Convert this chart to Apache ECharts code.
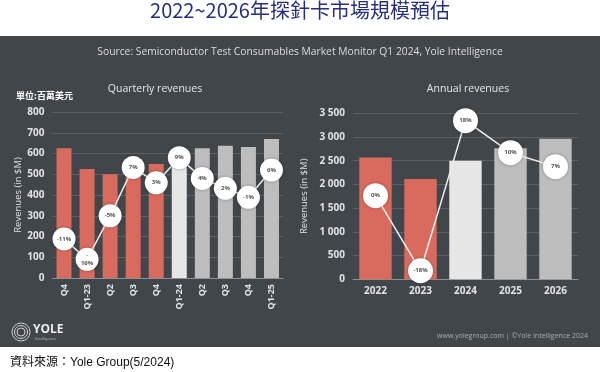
<!DOCTYPE html>
<html><head><meta charset="utf-8">
<script src="https://cdn.jsdelivr.net/npm/echarts@6/dist/echarts.min.js"></script>
<style>html,body{margin:0;padding:0;background:#fff}#c{width:600px;height:372px}</style>
</head><body><div id="c"></div>
<script>
const qCategories = ['Q4','Q1-23','Q2','Q3','Q4','Q1-24','Q2','Q3','Q4','Q1-25'];
const qRevenue = [625, 525, 500, 535, 550, 598, 625, 637, 631, 670];
const qGrowthPos = [188, 90, 300, 533, 459, 580, 480, 432, 389, 520];
const qGrowthLabels = ['-11%', '-\n16%', '-5%', '7%', '3%', '9%', '4%', '2%', '-1%', '6%'];
const qYTicks = [0, 100, 200, 300, 400, 500, 600, 700, 800];

const aCategories = ['2022','2023','2024','2025','2026'];
const aRevenue = [2570, 2115, 2500, 2762, 2965];
const aGrowthPos = [1763, 181, 3345, 2670, 2375];
const aGrowthLabels = ['0%', '-18%', '18%', '10%', '7%'];
const aYTicks = [0, 500, 1000, 1500, 2000, 2500, 3000, 3500];

const RED = '#d86b5e', LIGHT = '#e6e6e6', GREY = '#bdbdbd';
const qColors = qCategories.map((c, i) => i < 5 ? RED : (i === 5 ? LIGHT : GREY));
const aColors = aCategories.map((c, i) => i < 2 ? RED : (i === 2 ? LIGHT : GREY));

const FONT = '"Open Sans", Lato, sans-serif';
const chart = echarts.init(document.getElementById('c'), null, {renderer: 'canvas'});

function fmtThousands(v){ return v >= 1000 ? String(v).replace(/\B(?=(\d{3})+(?!\d))/g, ' ') : String(v); }

const axisLabelStyle = {color: '#e2e2e2', fontFamily: FONT, fontWeight: 'bold'};

chart.setOption({
  animation: false,
  graphic: [
    {type: 'rect', shape: {x: 0, y: 36, width: 600, height: 311}, style: {fill: '#41464b'}, z: -10},
    {type: 'text', left: 'center', top: 0, style: {text: '2022~2026年探針卡市場規模預估', fill: '#262f7e', font: 'normal 20px "Noto Sans CJK TC", sans-serif'}},
    {type: 'text', x: 300, y: 52, style: {text: 'Source: Semiconductor Test Consumables Market Monitor Q1 2024, Yole Intelligence', fill: '#dcdcdc', font: '10.3px ' + FONT, align: 'center', verticalAlign: 'middle'}},
    {type: 'text', x: 155, y: 89, style: {text: 'Quarterly revenues', fill: '#e6e6e6', font: '10.5px ' + FONT, align: 'center', verticalAlign: 'middle'}},
    {type: 'text', x: 468, y: 89, style: {text: 'Annual revenues', fill: '#e6e6e6', font: '10.5px ' + FONT, align: 'center', verticalAlign: 'middle'}},
    {type: 'text', x: 16, y: 96, style: {text: '單位:百萬美元', fill: '#ffffff', font: 'bold 9px "Noto Sans CJK TC", sans-serif', verticalAlign: 'middle'}},
    {type: 'circle', shape: {cx: 21, cy: 332, r: 9}, style: {fill: 'none', stroke: '#cfcfcf', lineWidth: 1}},
    {type: 'circle', shape: {cx: 21, cy: 332, r: 6.5}, style: {fill: 'none', stroke: '#cfcfcf', lineWidth: 1}},
    {type: 'circle', shape: {cx: 21, cy: 332, r: 4}, style: {fill: 'none', stroke: '#cfcfcf', lineWidth: 1}},
    {type: 'text', x: 33, y: 330, style: {text: 'YOLE', fill: '#ececec', font: 'bold 12px ' + FONT, verticalAlign: 'middle'}},
    {type: 'text', x: 35, y: 339, style: {text: 'Intelligence', fill: '#bbbbbb', font: '4px ' + FONT, verticalAlign: 'middle'}},
    {type: 'text', x: 588, y: 336, style: {text: 'www.yolegroup.com | ©Yole Intelligence 2024', fill: '#a9acaf', font: '7px ' + FONT, align: 'right', verticalAlign: 'middle'}},
    {type: 'text', x: 10, y: 363, style: {text: '資料來源：Yole Group(5/2024)', fill: '#111111', font: '12px "Liberation Sans", "Noto Sans CJK TC", sans-serif', verticalAlign: 'middle'}}
  ],
  grid: [
    {left: 52.5, width: 230.5, top: 112, height: 166},
    {left: 353, width: 225, top: 113.3, height: 166}
  ],
  xAxis: [
    {type: 'category', gridIndex: 0, data: qCategories,
     axisLine: {lineStyle: {color: '#8d9195'}}, axisTick: {show: false},
     axisLabel: Object.assign({rotate: 90, fontSize: 9, margin: 6, interval: 0}, axisLabelStyle)},
    {type: 'category', gridIndex: 1, data: aCategories,
     axisLine: {lineStyle: {color: '#8d9195'}}, axisTick: {show: false},
     axisLabel: Object.assign({fontSize: 10, margin: 7}, axisLabelStyle)}
  ],
  yAxis: [
    {type: 'value', gridIndex: 0, min: qYTicks[0], max: qYTicks[qYTicks.length-1], interval: 100,
     name: 'Revenues (in $M)', nameLocation: 'middle', nameGap: 28, nameRotate: 90,
     nameTextStyle: {color: '#e2e2e2', fontFamily: FONT, fontSize: 9.5},
     axisLine: {show: false}, axisTick: {show: false},
     splitLine: {lineStyle: {color: '#5b6064', width: 1}},
     axisLabel: Object.assign({fontSize: 10, margin: 8}, axisLabelStyle)},
    {type: 'value', gridIndex: 1, min: aYTicks[0], max: aYTicks[aYTicks.length-1], interval: 500,
     name: 'Revenues (in $M)', nameLocation: 'middle', nameGap: 44, nameRotate: 90,
     nameTextStyle: {color: '#e2e2e2', fontFamily: FONT, fontSize: 9.5},
     axisLine: {show: false}, axisTick: {show: false},
     splitLine: {lineStyle: {color: '#5b6064', width: 1}},
     axisLabel: Object.assign({fontSize: 10, margin: 8, formatter: fmtThousands}, axisLabelStyle)}
  ],
  series: [
    {type: 'bar', xAxisIndex: 0, yAxisIndex: 0, barWidth: '65%',
     data: qRevenue.map((v, i) => ({value: v, itemStyle: {color: qColors[i]}}))},
    {type: 'line', xAxisIndex: 0, yAxisIndex: 0, data: qGrowthPos,
     symbol: 'circle', symbolSize: 23, z: 5,
     lineStyle: {color: '#eeeeee', width: 1.5},
     itemStyle: {color: '#ffffff', shadowBlur: 3, shadowColor: 'rgba(0,0,0,0.35)'},
     label: {show: true, position: 'inside', color: '#555', fontSize: 6, fontFamily: FONT, fontWeight: 'bold', lineHeight: 8,
       formatter: p => qGrowthLabels[p.dataIndex]}},
    {type: 'bar', xAxisIndex: 1, yAxisIndex: 1, barWidth: '72%',
     data: aRevenue.map((v, i) => ({value: v, itemStyle: {color: aColors[i]}}))},
    {type: 'line', xAxisIndex: 1, yAxisIndex: 1, data: aGrowthPos,
     symbol: 'circle', symbolSize: 25, z: 5,
     lineStyle: {color: '#eeeeee', width: 1.5},
     itemStyle: {color: '#ffffff', shadowBlur: 3, shadowColor: 'rgba(0,0,0,0.35)'},
     label: {show: true, position: 'inside', color: '#555', fontSize: 6, fontFamily: FONT, fontWeight: 'bold',
       formatter: p => aGrowthLabels[p.dataIndex]}}
  ]
});
</script></body></html>
